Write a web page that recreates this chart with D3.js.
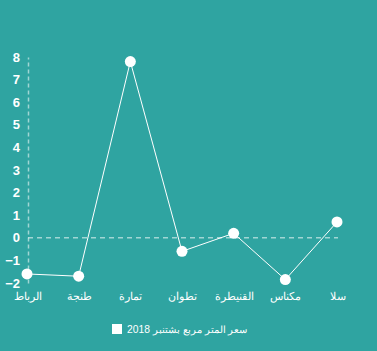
<!DOCTYPE html>
<html>
<head>
<meta charset="utf-8">
<script src="https://cdn.jsdelivr.net/npm/d3@7"></script>
<style>
  html, body { margin: 0; padding: 0; background: #2fa4a1; }
  svg { display: block; font-family: "Liberation Sans", Arial, sans-serif; }
</style>
</head>
<body>
<div id="chart"></div>
<script>
// data
const cities = ["الرباط", "طنجة", "تمارة", "تطوان", "القنيطرة", "مكناس", "سلا"];
const prices = [-1.6, -1.7, 7.8, -0.6, 0.2, -1.85, 0.7];
const yTicks = [-2, -1, 0, 1, 2, 3, 4, 5, 6, 7, 8];
const seriesName = "سعر المتر مربع بشتنبر 2018";

const width = 377, height = 351;

const svg = d3.select("#chart")
  .append("svg")
    .attr("width", width)
    .attr("height", height);

svg.append("rect")
    .attr("width", width)
    .attr("height", height)
    .attr("fill", "#2fa4a1");

// scales
const x = d3.scalePoint()
    .domain(cities)
    .range([27, 337]);

const y = d3.scaleLinear()
    .domain([-2, 8])
    .range([283, 57]);

// y axis (dashed line + labels)
const yAxis = svg.append("g")
    .attr("transform", "translate(28,0)")
    .call(d3.axisLeft(y).tickValues(yTicks).tickSize(0).tickPadding(8));
yAxis.select(".domain")
    .attr("stroke", "rgba(255,255,255,0.55)")
    .attr("stroke-dasharray", "4,3")
    .attr("stroke-width", 1.5);
yAxis.selectAll("text")
    .attr("fill", "#fff")
    .attr("font-size", 13)
    .attr("font-weight", "bold");

// zero line
svg.append("line")
    .attr("x1", 28)
    .attr("x2", 338)
    .attr("y1", y(0))
    .attr("y2", y(0))
    .attr("stroke", "rgba(255,255,255,0.55)")
    .attr("stroke-dasharray", "5,4")
    .attr("stroke-width", 1.5);

// x labels
const xAxis = svg.append("g")
    .attr("transform", "translate(0,291)")
    .call(d3.axisBottom(x).tickSize(0).tickPadding(0));
xAxis.select(".domain").remove();
xAxis.selectAll("text")
    .attr("fill", "#fff")
    .attr("font-size", 11)
    .attr("dy", "0.8em");

// line + points
const pts = cities.map((c, i) => [c, prices[i]]);

svg.append("path")
    .datum(pts)
    .attr("fill", "none")
    .attr("stroke", "#fff")
    .attr("stroke-width", 1)
    .attr("d", d3.line().x(d => x(d[0])).y(d => y(d[1])));

svg.selectAll("circle.pt")
  .data(pts)
  .join("circle")
    .attr("class", "pt")
    .attr("cx", d => x(d[0]))
    .attr("cy", d => y(d[1]))
    .attr("r", 5.5)
    .attr("fill", "#fff");

// legend
svg.append("rect")
    .attr("x", 112)
    .attr("y", 324)
    .attr("width", 10)
    .attr("height", 10)
    .attr("fill", "#fff");

svg.append("text")
    .attr("x", 127)
    .attr("y", 333)
    .attr("fill", "#fff")
    .attr("font-size", 10.3)
    .attr("direction", "rtl")
    .attr("text-anchor", "end")
    .text(seriesName);
</script>
</body>
</html>
